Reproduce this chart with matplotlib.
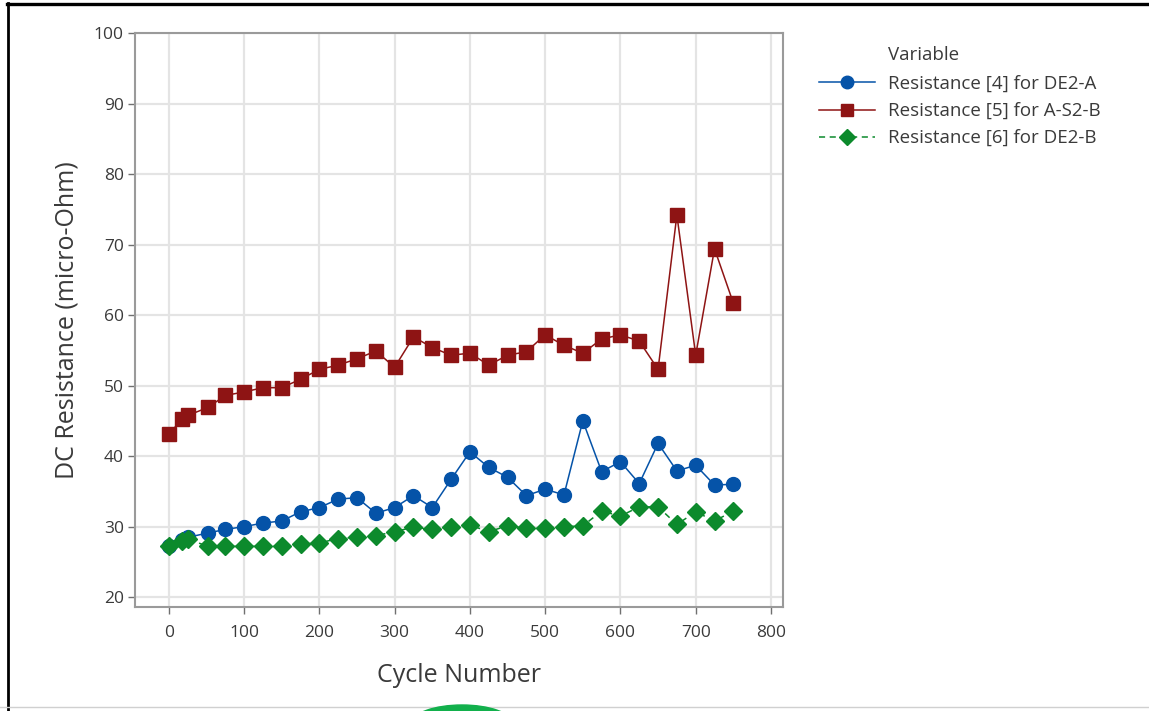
import matplotlib
matplotlib.use("Agg")
import matplotlib.pyplot as plt
from matplotlib.lines import Line2D
from matplotlib.patches import Ellipse

# Cycle counts and measured DC resistance (micro-Ohm) for each joint
cycles = [0, 18, 26, 52, 75, 100, 125, 150, 175, 200, 225, 250, 275, 300, 325, 350,
          375, 400, 425, 450, 475, 500, 525, 550, 575, 600, 625, 650, 675, 700, 725, 750]

res_de2_a = [27.3, 28.1, 28.5, 29.1, 29.6, 30.0, 30.5, 30.8, 32.1, 32.7, 33.9, 34.1,
             31.9, 32.7, 34.4, 32.7, 36.7, 40.6, 38.4, 37.0, 34.4, 35.3, 34.5, 45.0,
             37.8, 39.2, 36.1, 41.8, 37.9, 38.7, 35.9, 36.0]

res_a_s2_b = [43.2, 45.2, 45.8, 46.9, 48.6, 49.1, 49.7, 49.7, 50.9, 52.3, 52.9, 53.8,
              54.9, 52.6, 56.9, 55.4, 54.3, 54.6, 52.9, 54.3, 54.8, 57.2, 55.7, 54.6,
              56.6, 57.2, 56.3, 52.3, 74.2, 54.3, 69.4, 61.7]

res_de2_b = [27.2, 27.9, 28.2, 27.2, 27.2, 27.2, 27.2, 27.2, 27.5, 27.7, 28.3, 28.5,
             28.7, 29.3, 29.9, 29.6, 29.9, 30.2, 29.3, 30.1, 29.8, 29.8, 30.0, 30.1,
             32.2, 31.5, 32.8, 32.8, 30.3, 32.1, 30.8, 32.2]

labels = ["Resistance [4] for DE2-A", "Resistance [5] for A-S2-B", "Resistance [6] for DE2-B"]
x_ticks = [0, 100, 200, 300, 400, 500, 600, 700, 800]
y_ticks = [20, 30, 40, 50, 60, 70, 80, 90, 100]

plt.rcParams["font.family"] = ["Open Sans", "DejaVu Sans"]

W, H = 1149, 711
fig = plt.figure(figsize=(W / 100, H / 100), dpi=100)
fig.patch.set_facecolor("white")

# axes box in pixel terms
left, right, top, bottom = 135, 783, 33, 607
ax = fig.add_axes([left / W, (H - bottom) / H, (right - left) / W, (bottom - top) / H])

blue = "#0553a8"
red = "#8e1414"
green = "#0c8a2c"
text_col = "#3a3a3a"

h_blue, = ax.plot(cycles, res_de2_a, color=blue, lw=1.1, marker="o", ms=10,
                  mec=blue, mfc=blue, zorder=3)
h_red, = ax.plot(cycles, res_a_s2_b, color=red, lw=1.1, marker="s", ms=10,
                 mec=red, mfc=red, zorder=3)
h_green, = ax.plot(cycles, res_de2_b, color=green, lw=1.1, ls=(0, (4, 3)), marker="D",
                   ms=9.2, mec=green, mfc=green, zorder=4)

ax.set_xlim(-45, 816)
ax.set_ylim(18.6, 100)
ax.set_xticks(x_ticks)
ax.set_yticks(y_ticks)
ax.grid(True, color="#e4e4e4", lw=1.6, zorder=0)
ax.set_axisbelow(True)

for s in ax.spines.values():
    s.set_color("#9a9a9a")
    s.set_linewidth(1.5)

ax.tick_params(axis="both", direction="out", length=5, width=1, color="#707070",
               labelsize=12.5, labelcolor=text_col)
ax.tick_params(axis="x", pad=8)
ax.tick_params(axis="y", pad=3)

ax.set_xlabel("Cycle Number", fontsize=18, color=text_col, labelpad=16)
ax.set_ylabel("DC Resistance (micro-Ohm)", fontsize=18, color=text_col, labelpad=10)

# legend with a left-aligned heading above the entries
fig.text(888 / W, 1 - 55 / H, "Variable", fontsize=13.5, color=text_col,
         ha="left", va="center")
fig.legend([h_blue, h_red, h_green], labels, loc="upper left",
           bbox_to_anchor=(802 / W, 1 - 58 / H), frameon=False, fontsize=13.5,
           handlelength=3.0, handletextpad=0.7, labelspacing=0.49,
           markerscale=0.9, labelcolor=text_col)

# page frame around the figure
fig.add_artist(Line2D([7 / W, 1], [1 - 4 / H, 1 - 4 / H], transform=fig.transFigure,
                      color="black", lw=2.4))
fig.add_artist(Line2D([7.5 / W, 7.5 / W], [0, 1 - 3 / H], transform=fig.transFigure,
                      color="black", lw=2.0))
fig.add_artist(Line2D([0, 1], [4 / H, 4 / H], transform=fig.transFigure,
                      color="#d0d0d0", lw=1.0))
fig.add_artist(Ellipse((462 / W, -12 / H), 100 / W, 36 / H, transform=fig.transFigure,
                       color="#12b04c", zorder=5))

fig.savefig("out.png", dpi=100, facecolor="white")
